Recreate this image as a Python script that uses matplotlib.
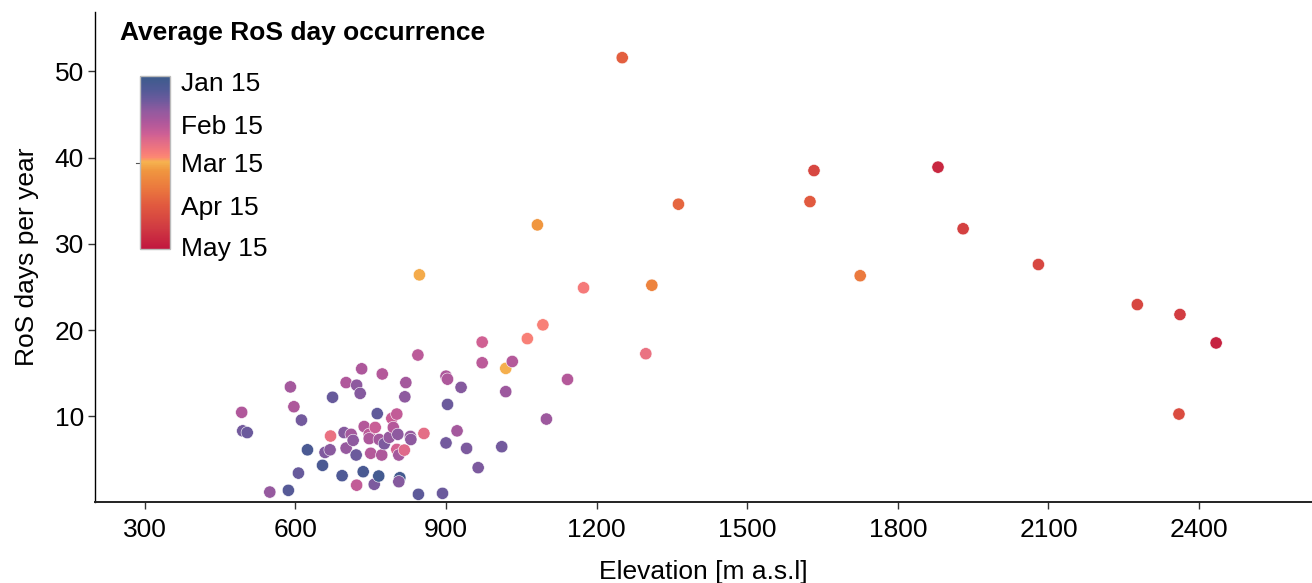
import matplotlib
matplotlib.use("Agg")
import matplotlib.pyplot as plt
import numpy as np
from matplotlib.colors import LinearSegmentedColormap, Normalize
import matplotlib.cm as cm

plt.rcParams['font.family'] = ['Liberation Sans', 'DejaVu Sans']

# Elevation [m a.s.l]
elevation = [493, 495, 504, 549, 586, 590, 597, 606, 612, 624,
             654, 659, 669, 670, 674, 693, 701, 701, 697, 711,
             715, 721, 722, 732, 722, 729, 737, 735, 747, 747,
             750, 757, 759, 763, 766, 767, 772, 773, 777, 787,
             792, 795, 802, 804, 802, 806, 808, 806, 817, 818,
             820, 829, 830, 844, 856, 845, 893, 900, 903, 903,
             900, 922, 930, 941, 964, 972, 972, 1019, 1032, 1019,
             1142, 1100, 1011, 1298, 1062, 1093, 1174, 847, 1082, 1310,
             1363, 1251, 1633, 1625, 1880, 1930, 1725, 2080, 2277, 2362,
             2434, 2360]
# RoS days per year
ros_days = [10.45, 8.3, 8.1, 1.2, 1.4, 13.4, 11.1, 3.4, 9.55, 6.1,
            4.3, 5.8, 6.1, 7.7, 12.2, 3.1, 13.9, 6.3, 8.1, 7.9,
            7.2, 5.5, 2.0, 15.5, 13.6, 12.65, 8.8, 3.56, 7.9, 7.4,
            5.7, 2.1, 8.7, 10.3, 3.06, 7.3, 5.5, 14.9, 6.8, 7.55,
            9.75, 8.7, 10.25, 7.9, 6.15, 5.5, 2.86, 2.4, 6.07, 12.25,
            13.9, 7.66, 7.3, 17.1, 8.0, 0.94, 1.05, 14.65, 14.3, 11.37,
            6.9, 8.3, 13.35, 6.27, 4.03, 18.6, 16.2, 15.55, 16.35, 12.85,
            14.27, 9.67, 6.46, 17.25, 19.0, 20.6, 24.9, 26.4, 32.2, 25.2,
            34.6, 51.6, 38.5, 34.9, 38.9, 31.75, 26.3, 27.6, 22.95, 21.8,
            18.5, 10.25]
# Average RoS day occurrence (day of year)
occurrence_doy = [45, 30, 28, 38, 22, 42, 44, 27, 30, 18,
                  18, 33, 35, 62, 27, 20, 45, 38, 34, 42,
                  36, 28, 50, 44, 36, 34, 46, 17, 48, 44,
                  46, 32, 52, 25, 15, 42, 44, 46, 32, 38,
                  52, 46, 50, 36, 55, 42, 15, 34, 58, 36,
                  42, 38, 36, 48, 60, 24, 28, 44, 44, 28,
                  30, 42, 34, 32, 32, 54, 48, 74, 46, 40,
                  46, 40, 30, 62, 68, 68, 66, 75, 80, 88,
                  100, 103, 115, 105, 130, 118, 92, 115, 115, 120,
                  132, 112]

cbar_ticks = [15, 46, 74, 105, 135]
cbar_labels = ["Jan 15", "Feb 15", "Mar 15", "Apr 15", "May 15"]
x_ticks = [300, 600, 900, 1200, 1500, 1800, 2100, 2400]
y_ticks = [10, 20, 30, 40, 50]

vmin, vmax = 11, 137
stops = [(11, "#3c5b8b"), (20, "#4f5a96"), (29, "#6f5a9d"), (37, "#945a9f"),
         (45, "#b0589b"), (53, "#cc5f95"), (58, "#df6a8a"), (66, "#f57a7a"),
         (70.5, "#fd8972"), (73.5, "#f6b24f"), (80, "#f0963f"), (92, "#eb7a3e"),
         (105, "#e15a3f"), (122, "#d03a42"), (137, "#c1163f")]
cmap = LinearSegmentedColormap.from_list(
    "ros", [((d - vmin) / (vmax - vmin), c) for d, c in stops])
norm = Normalize(vmin=vmin, vmax=vmax)

W, H = 1312, 583
FS = 19
fig = plt.figure(figsize=(W / 100, H / 100), dpi=100)
ax = fig.add_axes([95 / W, 1 - 502.4 / H, (W - 95) / W, (502.4 - 12) / H])

ax.scatter(elevation, ros_days, c=occurrence_doy, cmap=cmap, norm=norm,
           s=78, edgecolors="white", linewidths=0.4, zorder=3)

ax.set_xlim(200.8, 2625)
ax.set_ylim(0, 56.9)
ax.set_xticks(x_ticks)
ax.set_yticks(y_ticks)
ax.tick_params(labelsize=FS, length=5, width=1, color="#333333")
ax.tick_params(axis="x", pad=6)
ax.tick_params(axis="y", pad=3)
for s in ["top", "right"]:
    ax.spines[s].set_visible(False)
ax.spines["left"].set_linewidth(1.0)
ax.spines["bottom"].set_linewidth(1.4)
ax.spines["bottom"].set_color("#222222")
ax.set_xlabel("Elevation [m a.s.l]", fontsize=FS, labelpad=13)
ax.set_ylabel("RoS days per year", fontsize=FS, labelpad=11)

# colorbar inside the plot
cax = fig.add_axes([140 / W, 1 - 249 / H, 30 / W, 173 / H])
sm = cm.ScalarMappable(norm=norm, cmap=cmap)
cb = fig.colorbar(sm, cax=cax, ticks=cbar_ticks)
cb.ax.invert_yaxis()
cb.ax.set_yticklabels(cbar_labels)
cb.ax.tick_params(labelsize=FS, length=0, pad=8)
cb.outline.set_edgecolor("#bbbbbb")
cb.outline.set_linewidth(1.0)
cb.ax.plot([-0.12, 0.0], [74, 74], color="#555555", lw=0.8,
           transform=cb.ax.get_yaxis_transform(), clip_on=False)

fig.text(120 / W, 1 - 33 / H, "Average RoS day occurrence", fontsize=FS,
         fontweight="bold", va="center", ha="left")

fig.savefig("out.png", dpi=100)
